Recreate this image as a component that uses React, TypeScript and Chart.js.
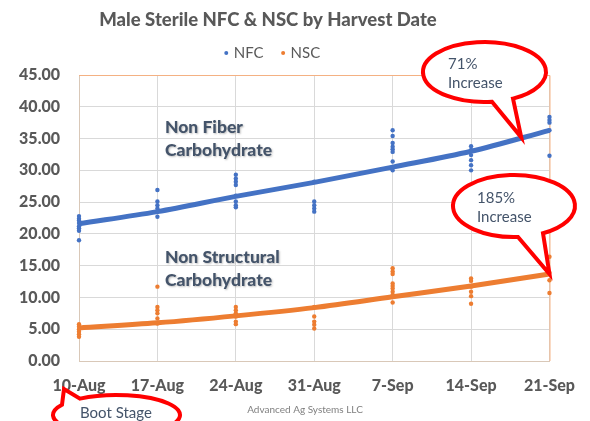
import React, { useEffect, useRef } from 'react';
import { Chart, registerables } from 'chart.js';

Chart.register(...registerables);

// ---------- data ----------
const chartTitle = 'Male Sterile NFC & NSC by Harvest Date';
const harvestDates = ['10-Aug', '17-Aug', '24-Aug', '31-Aug', '7-Sep', '14-Sep', '21-Sep'];
const yMin = 0;
const yMax = 45;
const yStep = 5;

// individual samples, one list per harvest date
const nfcSamples: number[][] = [
  [22.8, 22.4, 22.1, 21.7, 21.2, 20.9, 20.5, 19.0],
  [26.9, 25.1, 24.5, 24.0, 23.5, 22.7],
  [29.3, 28.7, 28.2, 27.7, 26.0, 25.1, 24.5, 24.2],
  [28.2, 25.1, 24.5, 24.0, 23.5],
  [36.3, 35.4, 34.3, 33.7, 33.3, 32.9, 31.4, 30.5, 30.0],
  [33.8, 33.2, 32.4, 31.6, 30.8, 30.0],
  [38.4, 37.9, 37.5, 36.3, 32.3],
];
const nscSamples: number[][] = [
  [5.8, 5.4, 5.0, 4.6, 4.2, 3.8],
  [11.7, 8.5, 8.0, 7.5, 6.7, 5.9],
  [8.5, 8.0, 7.5, 7.0, 6.2, 5.8],
  [8.5, 7.0, 6.2, 5.7, 5.1],
  [14.6, 14.1, 13.7, 12.2, 11.8, 11.4, 10.9, 10.4, 9.2],
  [13.0, 12.6, 11.7, 10.9, 10.2, 9.0],
  [16.4, 13.9, 12.7, 10.7],
];
// trendline values read at each harvest date
const nfcTrend = [21.6, 23.5, 25.9, 28.1, 30.5, 33.0, 36.3];
const nscTrend = [5.2, 6.0, 7.1, 8.4, 10.1, 11.8, 13.7];

// ---------- styles ----------
const FONT = 'Lato, "Open Sans", "DejaVu Sans", sans-serif';
const BLUE = '#4472C4';
const ORANGE = '#ED7D31';
const GREY = '#595959';
const SLATE = '#44546A';

const toPoints = (samples: number[][]) =>
  samples.flatMap((vals, i) => vals.map((v) => ({ x: i, y: v })));
const toLine = (vals: number[]) => vals.map((v, i) => ({ x: i, y: v }));

function bubble(
  ctx: CanvasRenderingContext2D,
  cx: number, cy: number, rx: number, ry: number,
  baseX1: number, baseX2: number, side: 1 | -1,
  tipX: number, tipY: number,
) {
  const ang = (bx: number) => {
    const c = Math.max(-1, Math.min(1, (bx - cx) / rx));
    const a = Math.acos(c);
    return side > 0 ? a : 2 * Math.PI - a;
  };
  const a1 = ang(baseX1);
  const a2 = ang(baseX2);
  const hi = Math.max(a1, a2);
  const lo = Math.min(a1, a2);
  ctx.beginPath();
  ctx.ellipse(cx, cy, rx, ry, 0, hi, lo + 2 * Math.PI, false);
  ctx.lineTo(tipX, tipY);
  ctx.closePath();
  ctx.fillStyle = '#FFFFFF';
  ctx.fill();
  ctx.lineWidth = 4;
  ctx.lineJoin = 'miter';
  ctx.miterLimit = 10;
  ctx.strokeStyle = '#FF0000';
  ctx.stroke();
}

const overlayPlugin = {
  id: 'overlay',
  beforeDatasetsDraw(chart: any) {
    const { ctx, chartArea: a } = chart;
    ctx.save();
    ctx.strokeStyle = '#F4B183';
    ctx.lineWidth = 1;
    ctx.beginPath();
    ctx.moveTo(a.left, a.top + 0.5);
    ctx.lineTo(a.right + 0.5, a.top + 0.5);
    ctx.lineTo(a.right + 0.5, a.bottom);
    ctx.stroke();
    ctx.restore();
  },
  afterDraw(chart: any) {
    const { ctx, scales } = chart;
    const xs = scales.x;
    const ys = scales.y;
    ctx.save();

    // title
    ctx.fillStyle = GREY;
    ctx.font = `900 18.5px ${FONT}`;
    ctx.textAlign = 'center';
    ctx.textBaseline = 'middle';
    ctx.fillText(chartTitle, 268, 20);

    // legend
    ctx.font = `15px ${FONT}`;
    ctx.textAlign = 'left';
    const items = chart.data.datasets.filter((d: any) => d.showInLegend);
    const gap = 5;
    const spacing = 17;
    const widths = items.map((d: any) => 5 + gap + ctx.measureText(d.label).width);
    const total = widths.reduce((s: number, w: number) => s + w, 0) + spacing * (items.length - 1);
    let lx = 272 - total / 2;
    items.forEach((d: any, i: number) => {
      ctx.fillStyle = d.backgroundColor;
      ctx.beginPath();
      ctx.arc(lx + 2.5, 53, 2, 0, Math.PI * 2);
      ctx.fill();
      ctx.fillStyle = GREY;
      ctx.fillText(d.label, lx + 5 + gap, 53);
      lx += widths[i] + spacing;
    });

    // series captions
    ctx.save();
    ctx.shadowColor = 'rgba(0,0,0,0.25)';
    ctx.shadowBlur = 2;
    ctx.shadowOffsetX = 1;
    ctx.shadowOffsetY = 1;
    ctx.fillStyle = SLATE;
    ctx.font = `900 17.5px ${FONT}`;
    ctx.fillText('Non Fiber', 165, 127);
    ctx.fillText('Carbohydrate', 165, 150);
    ctx.fillText('Non Structural', 165, 257);
    ctx.fillText('Carbohydrate', 165, 280);
    ctx.restore();

    // callouts
    const tip71x = xs.getPixelForValue(5.64);
    const tip71y = ys.getPixelForValue(35.2);
    bubble(ctx, 484.5, 72, 61.5, 30, 492, 513, 1, tip71x, tip71y);
    const tip185x = xs.getPixelForValue(6);
    const tip185y = ys.getPixelForValue(nscTrend[6]);
    bubble(ctx, 514, 206, 61, 31, 518, 543, 1, tip185x, tip185y);
    bubble(ctx, 116.5, 415, 63.5, 20, 62, 80, -1, 64, 389);

    ctx.fillStyle = SLATE;
    ctx.font = `15px ${FONT}`;
    ctx.textAlign = 'left';
    ctx.fillText('71%', 448, 64);
    ctx.fillText('Increase', 448, 83);
    ctx.fillText('185%', 477, 198);
    ctx.fillText('Increase', 477, 217);
    ctx.fillText('Boot Stage', 80, 413);

    // footer
    ctx.fillStyle = '#7F7F7F';
    ctx.font = `10px ${FONT}`;
    ctx.textAlign = 'center';
    ctx.fillText('Advanced Ag Systems LLC', 305, 410);

    ctx.restore();
  },
};

export default function App() {
  const canvasRef = useRef<HTMLCanvasElement | null>(null);

  useEffect(() => {
    const canvas = canvasRef.current;
    if (!canvas) return;
    const chart = new Chart(canvas, {
      type: 'scatter',
      data: {
        datasets: [
          {
            type: 'line',
            label: 'NFC trend',
            data: toLine(nfcTrend),
            borderColor: BLUE,
            backgroundColor: BLUE,
            borderWidth: 5,
            pointRadius: 0,
            cubicInterpolationMode: 'monotone',
            clip: false,
            order: 2,
          } as any,
          {
            type: 'line',
            label: 'NSC trend',
            data: toLine(nscTrend),
            borderColor: ORANGE,
            backgroundColor: ORANGE,
            borderWidth: 5,
            pointRadius: 0,
            cubicInterpolationMode: 'monotone',
            clip: false,
            order: 2,
          } as any,
          {
            label: 'NFC',
            data: toPoints(nfcSamples),
            backgroundColor: BLUE,
            borderWidth: 0,
            pointRadius: 2.2,
            clip: false,
            showInLegend: true,
            order: 1,
          } as any,
          {
            label: 'NSC',
            data: toPoints(nscSamples),
            backgroundColor: ORANGE,
            borderWidth: 0,
            pointRadius: 2.2,
            clip: false,
            showInLegend: true,
            order: 1,
          } as any,
        ],
      },
      options: {
        responsive: false,
        animation: false,
        devicePixelRatio: 1,
        layout: { padding: { left: 0, right: 40, top: 75, bottom: 0 } },
        plugins: {
          legend: { display: false },
          title: { display: false },
          tooltip: { enabled: false },
        },
        scales: {
          x: {
            type: 'linear',
            min: 0,
            max: harvestDates.length - 1,
            afterFit: (s: any) => { s.height = 60; },
            afterBuildTicks: (s: any) => {
              s.ticks = harvestDates.map((_, i) => ({ value: i }));
            },
            ticks: {
              stepSize: 1,
              autoSkip: false,
              maxRotation: 0,
              padding: 15,
              color: GREY,
              font: { family: FONT, size: 16, weight: '900' },
              callback: (v: any) => harvestDates[Number(v)] ?? '',
            },
            grid: { color: '#D9D9D9', drawTicks: false },
            border: { color: '#D9C8B8', width: 1 },
          },
          y: {
            min: yMin,
            max: yMax,
            afterFit: (s: any) => { s.width = 79; },
            ticks: {
              stepSize: yStep,
              padding: 19,
              color: GREY,
              font: { family: FONT, size: 16, weight: '900' },
              callback: (v: any) => Number(v).toFixed(2),
            },
            grid: { color: '#D9D9D9', drawTicks: false },
            border: { color: '#D9C8B8', width: 1 },
          },
        },
      } as any,
      plugins: [overlayPlugin],
    });
    return () => chart.destroy();
  }, []);

  return (
    <div style={{ position: 'fixed', left: 0, top: 0, width: 590, height: 421, background: '#fff' }}>
      <canvas ref={canvasRef} width={590} height={421} style={{ display: 'block' }} />
    </div>
  );
}
